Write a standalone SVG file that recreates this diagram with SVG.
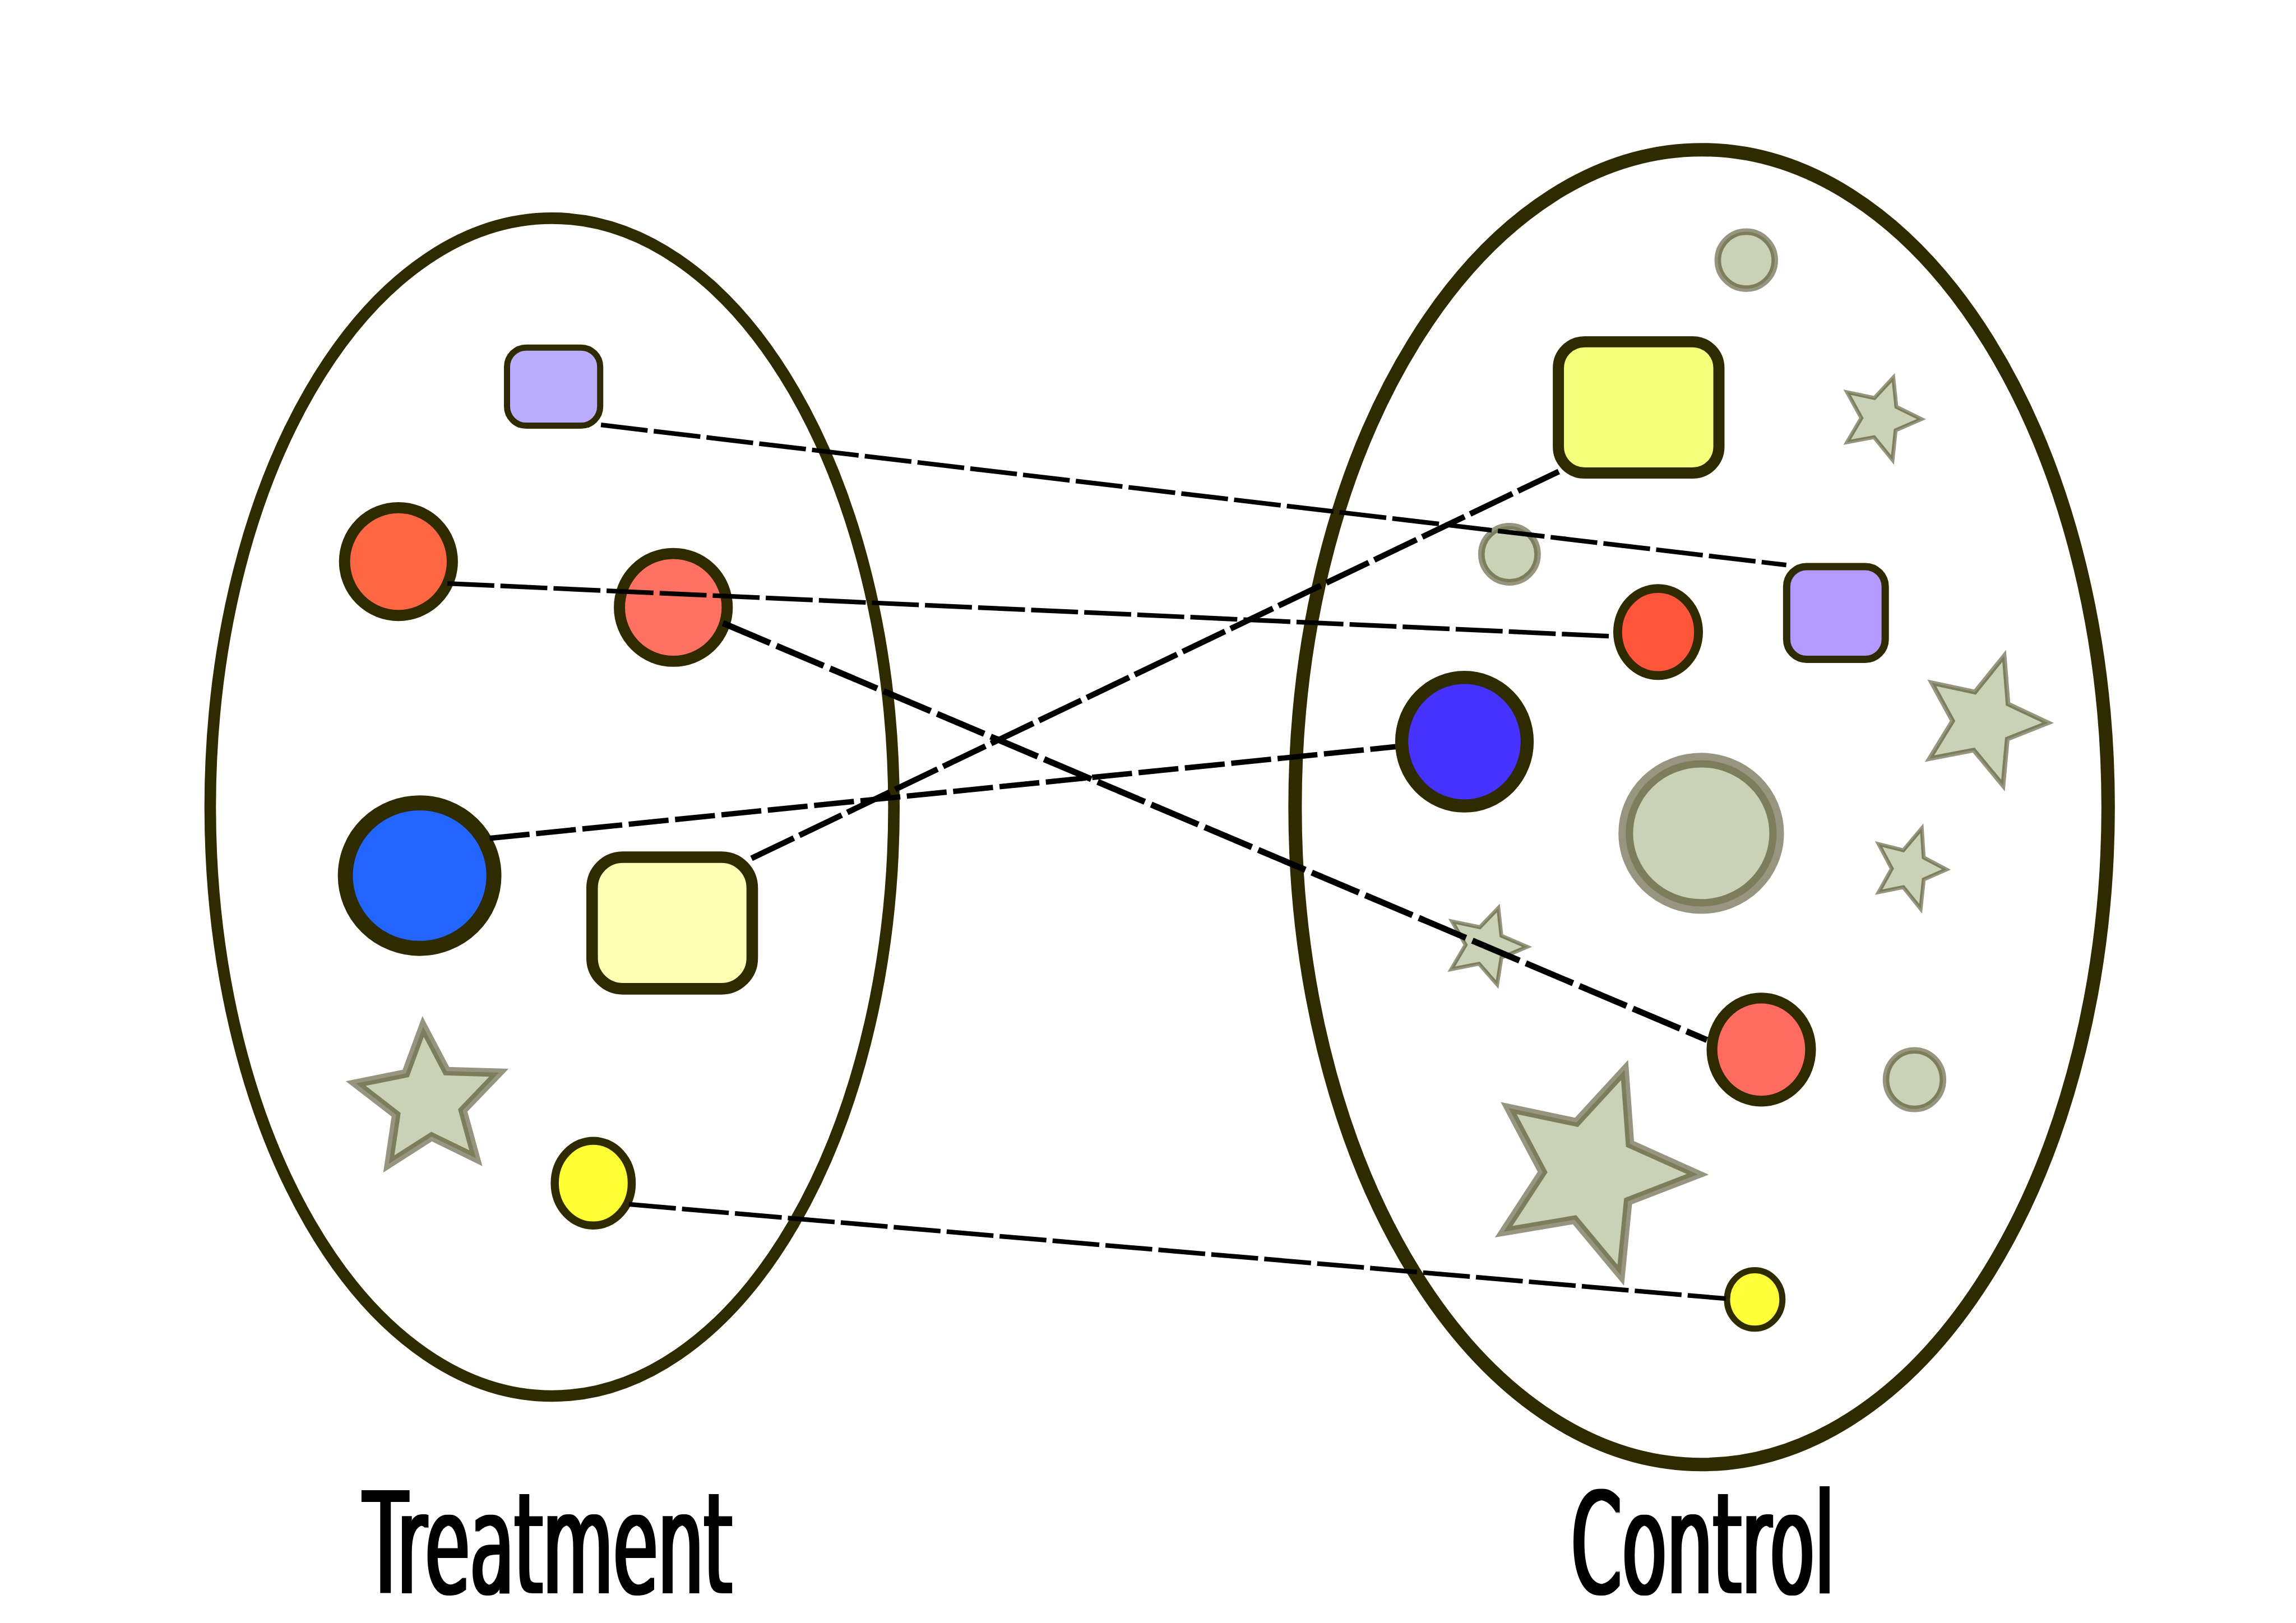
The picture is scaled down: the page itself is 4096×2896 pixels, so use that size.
<svg xmlns="http://www.w3.org/2000/svg" width="4096" height="2896" viewBox="0 0 4096 2896">
<style>
.grp{fill:none;stroke:#302a00}
.n{stroke:#302a00}
.g{fill:#c9d1b7;stroke:#302a00;stroke-opacity:0.5;stroke-linejoin:miter}
.c{fill:none;stroke:#000;stroke-linecap:butt}
.lbl{font-family:"DejaVu Sans","Liberation Sans",sans-serif;font-weight:normal;font-size:366px;fill:#000}
</style>
<defs>
<filter id="widen" x="-5%" y="-5%" width="110%" height="110%">
<feMorphology operator="dilate" radius="3.8 0"/>
</filter>
</defs>
<rect width="4096" height="2896" fill="#fff"/>
<g transform="scale(0.686787)">
<g id="treatment-group">
<ellipse class="grp" cx="1434" cy="2097" rx="888" ry="1530" stroke-width="30"/>
</g>
<g id="control-group">
<ellipse class="grp" cx="4420" cy="2097" rx="1056" ry="1708" stroke-width="35"/>
</g>
<g id="t-purple-square"><rect class="n" x="1317" y="903" width="242" height="203" rx="50" fill="#baacff" stroke-width="16"/></g>
<g id="t-red-circle-1"><circle class="n" cx="1035" cy="1459" r="140" fill="#ff6644" stroke-width="29"/></g>
<g id="t-red-circle-2"><circle class="n" cx="1749" cy="1578" r="140" fill="#ff7262" stroke-width="29"/></g>
<g id="t-blue-circle"><ellipse class="n" cx="1090" cy="2275" rx="193" ry="189" fill="#2266ff" stroke-width="39"/></g>
<g id="t-yellow-square"><rect class="n" x="1538" y="2227" width="416" height="342" rx="80" fill="#ffffb3" stroke-width="30"/></g>
<g id="t-star"><polygon class="g" stroke-width="22" points="1099,2667 1160,2783 1296,2787 1202,2885 1236,3009 1121,2953 1010,3024 1029,2896 924,2815 1054,2789"/></g>
<g id="t-yellow-circle"><ellipse class="n" cx="1541" cy="3074" rx="100" ry="110" fill="#ffff33" stroke-width="21"/></g>

<g id="c-gray-circle-1"><circle class="g" cx="4536" cy="676" r="74" stroke-width="17"/></g>
<g id="c-yellow-square"><rect class="n" x="4048" y="888" width="417" height="341" rx="68" fill="#f4ff7c" stroke-width="29"/></g>
<g id="c-star-1"><polygon class="g" stroke-width="10" points="4918,981 4926,1057 4991,1089 4924,1118 4916,1195 4868,1136 4798,1149 4835,1086 4798,1019 4869,1034"/></g>
<g id="c-gray-circle-2"><circle class="g" cx="3921" cy="1440" r="73" stroke-width="17"/></g>
<g id="c-purple-square"><rect class="n" x="4641" y="1472" width="256" height="241" rx="52" fill="#b39aff" stroke-width="19"/></g>
<g id="c-red-oval"><ellipse class="n" cx="4307" cy="1642" rx="105" ry="113" fill="#ff553a" stroke-width="23"/></g>
<g id="c-star-2"><polygon class="g" stroke-width="12" points="5206,1704 5216,1829 5320,1878 5214,1920 5203,2041 5127,1949 5012,1971 5072,1873 5018,1774 5130,1798"/></g>
<g id="c-blue-oval"><ellipse class="n" cx="3804" cy="1927" rx="163" ry="167" fill="#4733ff" stroke-width="34"/></g>
<g id="c-gray-circle-big"><ellipse class="g" cx="4419" cy="2165" rx="196" ry="190" stroke-width="38"/></g>
<g id="c-star-3"><polygon class="g" stroke-width="10" points="4992,2152 4997,2228 5056,2259 4997,2285 4989,2361 4944,2305 4880,2318 4914,2257 4880,2193 4944,2209"/></g>
<g id="c-star-4"><polygon class="g" stroke-width="10" points="3892,2359 3900,2431 3967,2460 3900,2488 3889,2558 3842,2504 3770,2518 3807,2455 3772,2394 3844,2409"/></g>
<g id="c-red-circle"><ellipse class="n" cx="4575" cy="2727" rx="128" ry="134" fill="#ff6b5e" stroke-width="28"/></g>
<g id="c-gray-circle-3"><ellipse class="g" cx="4973" cy="2805" rx="74" ry="76" stroke-width="17"/></g>
<g id="c-star-big"><polygon class="g" stroke-width="22" points="4220,2780 4234,2972 4410,3051 4229,3121 4210,3313 4090,3169 3906,3200 4007,3045 3919,2879 4095,2916"/></g>
<g id="c-yellow-circle"><ellipse class="n" cx="4558" cy="3376" rx="72" ry="76" fill="#ffff3a" stroke-width="16"/></g>

<g id="connectors">
<line class="c" x1="1561" y1="1104" x2="4640" y2="1468" stroke-width="12" stroke-dasharray="122 16"/>
<line class="c" x1="1162" y1="1516" x2="4185" y2="1653" stroke-width="12" stroke-dasharray="122 16"/>
<line class="c" x1="1878" y1="1619" x2="4434" y2="2702" stroke-width="16" stroke-dasharray="133 18"/>
<line class="c" x1="1272" y1="2178" x2="3625" y2="1940" stroke-width="14" stroke-dasharray="104 17"/>
<line class="c" x1="1952" y1="2230" x2="4049" y2="1225" stroke-width="15" stroke-dasharray="122 16"/>
<line class="c" x1="1634" y1="3129" x2="4483" y2="3374" stroke-width="12" stroke-dasharray="122 16"/>
</g>

<g id="labels" filter="url(#widen)">
<text class="lbl" x="944" y="4139" textLength="958" lengthAdjust="spacingAndGlyphs">Treatment</text>
<text class="lbl" x="4081" y="4139" textLength="685" lengthAdjust="spacingAndGlyphs">Control</text>
</g>
</g>
</svg>
